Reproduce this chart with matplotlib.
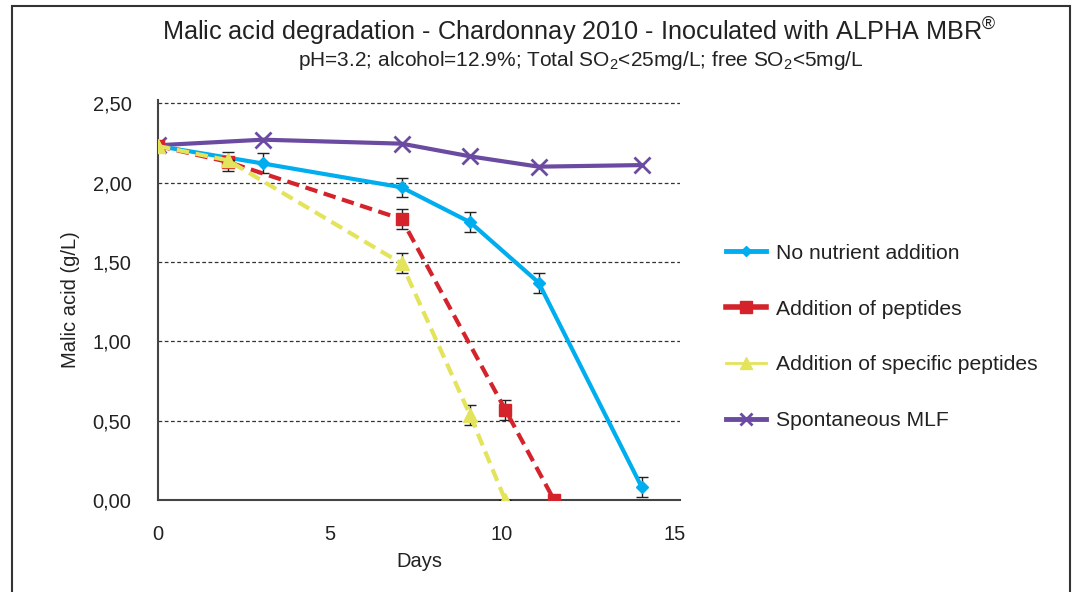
"""
Malic acid degradation curves for Chardonnay 2010 (ALPHA MBR inoculation).
"""
import matplotlib
matplotlib.use("Agg")
import matplotlib.pyplot as plt
from matplotlib.lines import Line2D
from matplotlib.patches import Rectangle
from matplotlib.ticker import FuncFormatter, MultipleLocator

plt.rcParams["font.family"] = ["Liberation Sans", "DejaVu Sans"]
plt.rcParams["mathtext.fontset"] = "custom"
plt.rcParams["mathtext.rm"] = "Liberation Sans"
plt.rcParams["mathtext.it"] = "Liberation Sans"

# Values
no_nutrient_days = [0, 3.05, 7.08, 9.07, 11.06, 14.06]
no_nutrient_acid = [2.23, 2.12, 1.97, 1.75, 1.37, 0.08]
no_nutrient_err = [0.0, 0.063, 0.06, 0.063, 0.063, 0.063]

peptides_days = [0, 2.03, 7.08, 10.09, 11.51]
peptides_acid = [2.23, 2.13, 1.77, 0.57, 0.0]
peptides_err = [0.0, 0.06, 0.065, 0.063, 0.0]

specific_days = [0, 2.03, 7.08, 9.07, 10.09]
specific_acid = [2.23, 2.14, 1.49, 0.535, 0.0]
specific_err = [0.0, 0.0, 0.063, 0.063, 0.0]

spontaneous_days = [0, 3.05, 7.08, 9.07, 11.06, 14.06]
spontaneous_acid = [2.235, 2.27, 2.245, 2.165, 2.10, 2.11]

labels = [
    "No nutrient addition",
    "Addition of peptides",
    "Addition of specific peptides",
    "Spontaneous MLF",
]

BLUE = "#00AEEF"
RED = "#D4232B"
YELLOW = "#E3E45C"
PURPLE = "#6B4BA1"

fig = plt.figure(figsize=(10.73, 5.92), dpi=100)
ax = fig.add_axes([158 / 1073, 1 - 500 / 592, 522 / 1073, 400 / 592])

# Gridlines
for y in [0.5, 1.0, 1.5, 2.0, 2.5]:
    ax.axhline(y, color="#333333", linestyle=(0, (3, 2)), linewidth=0.9, zorder=1)

# Series
ax.plot(spontaneous_days, spontaneous_acid, color=PURPLE, linewidth=3,
        marker="x", markersize=11, markeredgewidth=2, zorder=3)
ax.errorbar(no_nutrient_days, no_nutrient_acid, yerr=no_nutrient_err, color=BLUE,
            linewidth=3, marker="D", markersize=6, ecolor="#222222", elinewidth=1,
            capsize=4, capthick=1, zorder=4)
ax.errorbar(peptides_days, peptides_acid, yerr=peptides_err, color=RED, linewidth=3,
            linestyle=(0, (3, 1.6)), marker="s", markersize=9, ecolor="#222222",
            elinewidth=1, capsize=4, capthick=1, zorder=5)
ax.errorbar(specific_days, specific_acid, yerr=specific_err, color=YELLOW, linewidth=3,
            linestyle=(0, (3, 1.6)), marker="^", markersize=10, ecolor="#222222",
            elinewidth=1, capsize=4, capthick=1, zorder=6)

ax.set_xlim(0, 15.17)
ax.set_ylim(0, 2.52)
ax.xaxis.set_major_locator(MultipleLocator(5))
ax.yaxis.set_major_locator(MultipleLocator(0.5))
ax.yaxis.set_major_formatter(FuncFormatter(lambda v, p: f"{v:.2f}".replace(".", ",")))
ax.tick_params(length=0, labelsize=14.5, colors="#222222")
ax.tick_params(axis="y", pad=19)
ax.tick_params(axis="x", pad=18)

for side in ["top", "right"]:
    ax.spines[side].set_visible(False)
for side in ["left", "bottom"]:
    ax.spines[side].set_color("#444444")
    ax.spines[side].set_linewidth(1.5)

ax.set_xlabel("Days", fontsize=14.5, color="#222222", labelpad=6)
ax.set_ylabel("Malic acid (g/L)", fontsize=14.5, color="#222222")
ax.yaxis.set_label_coords(-0.15, 0.5)

# Titles
fig.text(579 / 1073, 1 - 32 / 592, "Malic acid degradation - Chardonnay 2010 - Inoculated with ALPHA MBR$^{®}$",
         ha="center", va="center", fontsize=18.2, color="#222222")
fig.text(581 / 1073, 1 - 61 / 592,
         "pH=3.2; alcohol=12.9%; Total SO$_2$<25mg/L; free SO$_2$<5mg/L",
         ha="center", va="center", fontsize=15, color="#222222")

# Legend (solid handles as in the reference)
handles = [
    Line2D([], [], color=BLUE, linewidth=3.5, marker="D", markersize=5),
    Line2D([], [], color=RED, linewidth=4, marker="s", markersize=9),
    Line2D([], [], color=YELLOW, linewidth=2, marker="^", markersize=8),
    Line2D([], [], color=PURPLE, linewidth=3.5, marker="x", markersize=9, markeredgewidth=2),
]
fig.legend(handles, labels, loc="center left", bbox_to_anchor=(726 / 1073, 1 - 337 / 592),
           frameon=False, fontsize=15.2, labelspacing=1.75, handlelength=1.9,
           handletextpad=0.45, borderpad=0, borderaxespad=0, labelcolor="#222222")

# Outer frame of the figure
fig.patches.append(Rectangle((12 / 1073, -0.05), (1070 - 12) / 1073, 1.05 - 6 / 592,
                             transform=fig.transFigure, fill=False,
                             edgecolor="#333333", linewidth=1.5))

fig.savefig("out.png", dpi=100)
